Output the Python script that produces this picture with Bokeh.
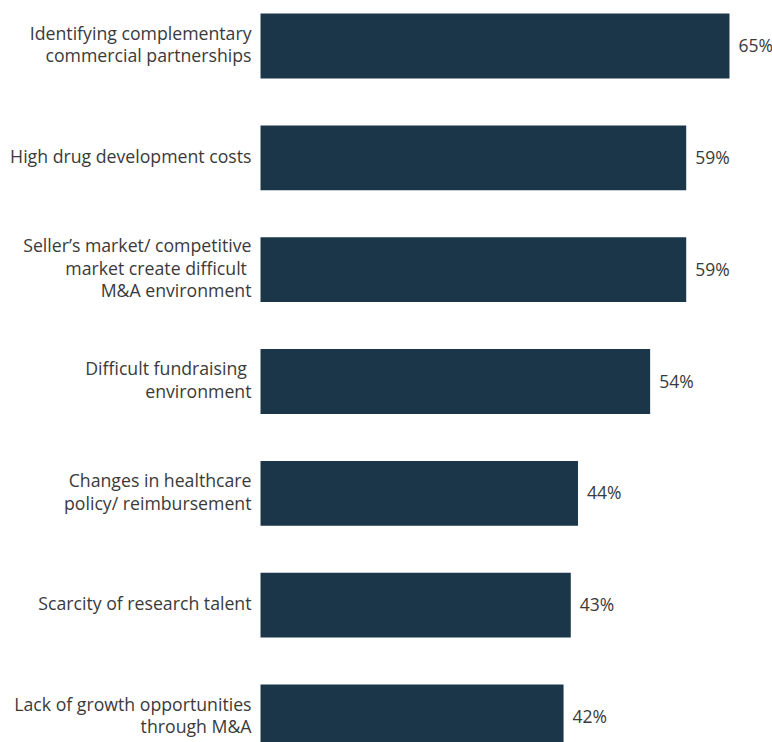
from bokeh.plotting import figure
from bokeh.models import ColumnDataSource, Range1d
from bokeh.core.properties import value
from bokeh.embed import file_html
from bokeh.resources import INLINE

categories = [
    "Identifying complementary\ncommercial partnerships",
    "High drug development costs",
    "Seller\u2019s market/ competitive\nmarket create difficult \nM&A environment",
    "Difficult fundraising \nenvironment",
    "Changes in healthcare\npolicy/ reimbursement",
    "Scarcity of research talent",
    "Lack of growth opportunities\nthrough M&A",
]
values = [65, 59, 59, 54, 44, 43, 42]
value_labels = ["65%", "59%", "59%", "54%", "44%", "43%", "42%"]

BAR = "#1b3649"
TXT = "#3a3a3a"
FONT = value("Open Sans")

ypos = list(range(len(categories)))
src = ColumnDataSource(dict(y=ypos, v=values, cat=categories, lab=value_labels,
                            lx=[-1.25] * len(values)))

W, H = 772, 742
p = figure(width=W, height=H, output_backend="svg", toolbar_location=None,
           x_range=Range1d(-36.04, 70.96), y_range=Range1d(6.228, -0.407),
           min_border=0, outline_line_color=None)
p.axis.visible = False
p.grid.visible = False
p.background_fill_color = "white"
p.border_fill_color = "white"

p.hbar(y="y", left=0, right="v", height=0.58, source=src, color=BAR, line_color=None)
p.text(x="lx", y="y", text="cat", source=src, text_align="right", text_baseline="middle",
       y_offset=-2, text_font=FONT, text_font_size="17.7px", text_color=TXT,
       text_line_height=0.94)
p.text(x="v", y="y", text="lab", source=src, text_align="left", text_baseline="middle",
       x_offset=9, y_offset=-1, text_font=FONT, text_font_size="17.5px", text_color=TXT)

open("out.html", "w").write(file_html(p, INLINE))
